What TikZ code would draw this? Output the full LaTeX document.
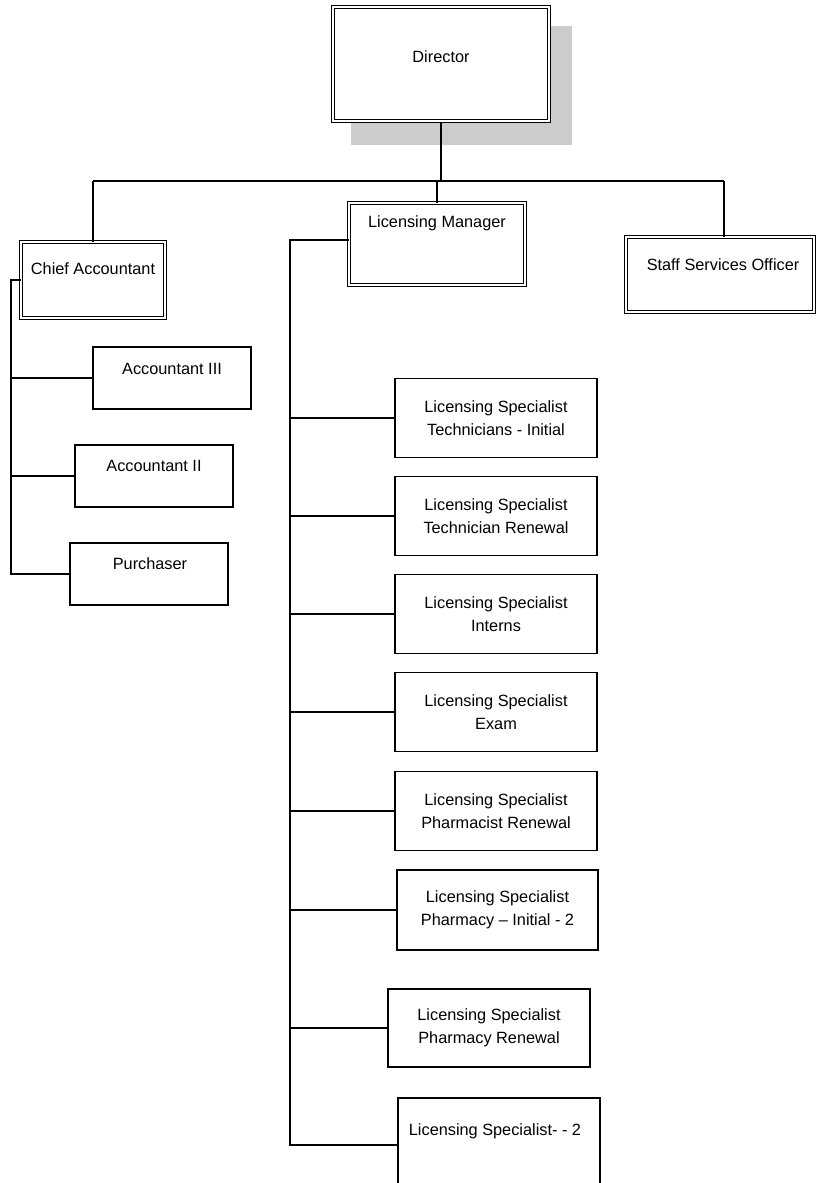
\documentclass[tikz,border=0pt]{standalone}
\usepackage{fontspec}
\setmainfont{Liberation Sans}
\begin{document}
\begin{tikzpicture}[x=1pt,y=-1pt,
  box/.style={draw, line width=1.3pt, fill=white, inner sep=0pt, align=center,
    font=\fontsize{16.3}{22.5}\selectfont},
  dbox/.style={draw, line width=1pt, double, double distance=1.8pt, fill=white, inner sep=0pt},
  lbl/.style={font=\fontsize{16.3}{22.5}\selectfont, align=center, inner sep=0pt},
  conn/.style={line width=1.3pt},
  shadow/.style={fill=black!20, draw=none}]
\clip (0,0) rectangle (817,1183);
% Director with stippled shadow
\path[shadow] (351,26) rectangle (572,145);
\node[dbox, minimum width=216pt, minimum height=114pt] (dir) at (441,64) {};
\node[lbl] (dirt) at (441,57) {Director};
% second level
\node[dbox, minimum width=144pt, minimum height=76pt] (chief) at (93,280) {};
\node[lbl] (chieft) at (93,269) {Chief Accountant};
\node[dbox, minimum width=176pt, minimum height=82pt] (lm) at (437,244) {};
\node[lbl] (lmt) at (437,223) {Licensing Manager};
\node[dbox, minimum width=188pt, minimum height=75pt] (ssf) at (720,274.5) {};
\node[lbl] (ssft) at (723,265) {Staff Services Officer};
% accounting staff
\node[box, minimum width=158pt, minimum height=62pt] (acc3) at (172,378) {};
\node[lbl] (acc3t) at (172,369) {Accountant III};
\node[box, minimum width=158pt, minimum height=62pt] (acc2) at (154,476) {};
\node[lbl] (acc2t) at (154,466) {Accountant II};
\node[box, minimum width=158pt, minimum height=62pt] (purch) at (149,574) {};
\node[lbl] (purcht) at (150,564) {Purchaser};
% licensing specialists
\node[box, minimum width=202pt, minimum height=79pt] (s1) at (496,418) {Licensing Specialist\\Technicians - Initial};
\node[box, minimum width=202pt, minimum height=79pt] (s2) at (496,516) {Licensing Specialist\\Technician Renewal};
\node[box, minimum width=202pt, minimum height=79pt] (s3) at (496,614) {Licensing Specialist\\Interns};
\node[box, minimum width=202pt, minimum height=79pt] (s4) at (496,712) {Licensing Specialist\\Exam};
\node[box, minimum width=202pt, minimum height=79pt] (s5) at (496,811) {Licensing Specialist\\Pharmacist Renewal};
\node[box, minimum width=201pt, minimum height=80pt] (s6) at (497.5,910) {Licensing Specialist\\Pharmacy -- Initial - 2};
\node[box, minimum width=202pt, minimum height=78pt] (s7) at (489,1028) {Licensing Specialist\\Pharmacy Renewal};
\node[box, minimum width=202pt, minimum height=94pt] (s8) at (499,1145) {};
\node[lbl] (s8t) at (495,1131) {Licensing Specialist- - 2};
% connectors top
\coordinate (hubL) at (93,181);
\coordinate (hubR) at (724,181);
\draw[conn] (hubL) -- (hubR);
\draw[conn] (dir.south) -- (dir.south |- hubL);
\draw[conn] (hubL) -- (chief.north);
\draw[conn] (lm.north |- hubL) -- (lm.north);
\draw[conn] (hubR) -- (hubR |- ssf.north);
% accounting bracket
\coordinate (aL) at (11,280);
\draw[conn] (chief.west) -- (aL) |- (purch.west);
\draw[conn] (acc3.west) -- (acc3.west -| aL);
\draw[conn] (acc2.west) -- (acc2.west -| aL);
% licensing spine
\coordinate (sp) at (290,240);
\draw[conn] (sp -| lm.west) -- (sp) |- (s8.west);
\foreach \n in {s1,s2,s3,s4,s5,s6,s7}
  \draw[conn] (\n.west) -- (\n.west -| sp);
\end{tikzpicture}
\end{document}
